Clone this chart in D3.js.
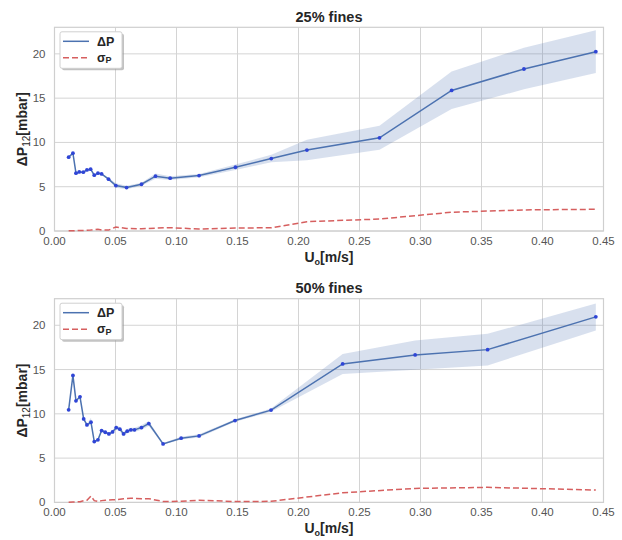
<!DOCTYPE html>
<html lang="en">
<head>
  <meta charset="UTF-8">
  <title>Pressure drop vs superficial velocity</title>
  <style>
    body { margin: 0; background: #fff; }
    svg { display: block; font-family: "Liberation Sans", Arial, sans-serif; }
    .grid line { stroke: #d4d4d4; stroke-width: 1; }
    .tick-label { fill: #555; font-size: 11.5px; }
    .title { fill: #262626; font-size: 14.5px; font-weight: bold; }
    .axis-label { fill: #262626; font-size: 14px; font-weight: bold; }
    .legend-text { fill: #262626; font-size: 12.5px; font-weight: bold; }
  </style>
</head>
<body>
  <div id="chart"></div>
  <script src="https://d3js.org/d3.v7.min.js"></script>
  <script>
    // tick labels
    const xTicks = [0, 0.05, 0.1, 0.15, 0.2, 0.25, 0.3, 0.35, 0.4, 0.45];
    const yTicks = [0, 5, 10, 15, 20];

    // 25% fines
    const x25 = [0.0116, 0.0151, 0.0176, 0.0203, 0.0236, 0.0266, 0.0296, 0.0326, 0.0356, 0.0386, 0.0443, 0.0503,
                 0.0591, 0.0713, 0.0828, 0.0948, 0.1185, 0.1483, 0.1777, 0.2069, 0.2664, 0.3255, 0.3848, 0.4437];
    const dp25 = [8.34, 8.79, 6.53, 6.67, 6.64, 6.90, 6.98, 6.30, 6.53, 6.45, 5.85, 5.13,
                  4.90, 5.28, 6.19, 5.96, 6.26, 7.20, 8.18, 9.14, 10.52, 15.87, 18.29, 20.25];
    const lo25 = [8.28, 8.72, 6.46, 6.60, 6.56, 6.82, 6.90, 6.22, 6.44, 6.36, 5.72, 4.88,
                  4.70, 5.10, 5.90, 5.75, 6.08, 6.90, 7.75, 8.00, 9.16, 13.77, 16.00, 17.84];
    const hi25 = [8.40, 8.86, 6.60, 6.74, 6.72, 6.98, 7.06, 6.38, 6.62, 6.54, 5.98, 5.38,
                  5.10, 5.46, 6.48, 6.17, 6.44, 7.50, 8.61, 10.30, 11.88, 18.00, 20.70, 22.66];
    const sd25 = [0.02, 0.03, 0.05, 0.06, 0.05, 0.08, 0.10, 0.15, 0.20, 0.12, 0.10, 0.45,
                  0.28, 0.25, 0.32, 0.38, 0.22, 0.33, 0.37, 1.05, 1.35, 2.12, 2.38, 2.45];

    // 50% fines
    const x50 = [0.0116, 0.0151, 0.0176, 0.0209, 0.0239, 0.0266, 0.0299, 0.0326, 0.0356, 0.0386, 0.0416, 0.0446,
                 0.0476, 0.0506, 0.0536, 0.0566, 0.0596, 0.0626, 0.0656, 0.0713, 0.0773, 0.0890, 0.1038, 0.1185,
                 0.1480, 0.1775, 0.2362, 0.2956, 0.3550, 0.4437];
    const dp50 = [10.45, 14.34, 11.47, 11.92, 9.43, 8.75, 9.06, 6.87, 7.06, 8.11, 7.92, 7.73,
                  7.96, 8.45, 8.27, 7.73, 8.04, 8.19, 8.19, 8.45, 8.90, 6.60, 7.25, 7.51,
                  9.24, 10.42, 15.63, 16.65, 17.25, 20.95];
    const lo50 = [10.38, 14.26, 11.40, 11.84, 9.32, 8.62, 8.80, 6.78, 6.96, 7.98, 7.78, 7.58,
                  7.78, 8.22, 8.02, 7.48, 7.78, 7.95, 7.95, 8.20, 8.62, 6.50, 7.10, 7.32,
                  9.10, 10.24, 14.50, 14.98, 15.47, 19.40];
    const hi50 = [10.52, 14.42, 11.54, 12.00, 9.54, 8.88, 9.55, 6.96, 7.16, 8.24, 8.06, 7.88,
                  8.14, 8.68, 8.52, 7.98, 8.30, 8.43, 8.43, 8.70, 9.18, 6.70, 7.40, 7.70,
                  9.38, 10.60, 16.76, 18.27, 19.03, 22.46];
    const sd50 = [0.02, 0.04, 0.05, 0.08, 0.20, 0.25, 0.72, 0.20, 0.10, 0.20, 0.25, 0.28,
                  0.30, 0.30, 0.35, 0.40, 0.45, 0.48, 0.45, 0.40, 0.42, 0.10, 0.12, 0.25,
                  0.10, 0.12, 1.09, 1.58, 1.70, 1.40];

    const panels = [
      { title: '25% fines', top: 27.3, x: x25, dp: dp25, lo: lo25, hi: hi25, sd: sd25 },
      { title: '50% fines', top: 298.7, x: x50, dp: dp50, lo: lo50, hi: hi50, sd: sd50 }
    ];

    const width = 622, height = 540;
    const left = 54.5, right = 603.5, plotH = 203.7;
    const lineBlue = '#4c72b0', dotBlue = '#2f45d6', red = '#d65f5f';

    const svg = d3.select('#chart').append('svg')
      .attr('width', width)
      .attr('height', height);

    const x = d3.scaleLinear().domain([0, 0.45]).range([left, right]);

    panels.forEach(p => {
      const y = d3.scaleLinear().domain([0, 23]).range([p.top + plotH, p.top]);
      const g = svg.append('g');
      const rows = p.x.map((v, i) => ({ x: v, dp: p.dp[i], lo: p.lo[i], hi: p.hi[i], sd: p.sd[i] }));

      // grid
      const grid = g.append('g').attr('class', 'grid');
      grid.selectAll('.gx').data(xTicks).enter().append('line')
        .attr('x1', d => x(d)).attr('x2', d => x(d))
        .attr('y1', p.top).attr('y2', p.top + plotH);
      grid.selectAll('.gy').data(yTicks).enter().append('line')
        .attr('x1', left).attr('x2', right)
        .attr('y1', d => y(d)).attr('y2', d => y(d));

      g.append('rect')
        .attr('x', left).attr('y', p.top)
        .attr('width', right - left).attr('height', plotH)
        .attr('fill', 'none').attr('stroke', '#cfcfcf').attr('stroke-width', 1.2);

      // tick labels
      g.selectAll('.xt').data(xTicks).enter().append('text')
        .attr('class', 'tick-label')
        .attr('x', d => x(d)).attr('y', p.top + plotH + 14)
        .attr('text-anchor', 'middle')
        .text(d => d.toFixed(2));
      g.selectAll('.yt').data(yTicks).enter().append('text')
        .attr('class', 'tick-label')
        .attr('x', left - 9).attr('y', d => y(d) + 4)
        .attr('text-anchor', 'end')
        .text(d => d);

      // confidence band
      const area = d3.area().x(d => x(d.x)).y0(d => y(d.lo)).y1(d => y(d.hi));
      g.append('path').datum(rows)
        .attr('d', area)
        .attr('fill', lineBlue).attr('fill-opacity', 0.22);

      // sigma
      const sdLine = d3.line().x(d => x(d.x)).y(d => y(d.sd));
      g.append('path').datum(rows)
        .attr('d', sdLine)
        .attr('fill', 'none').attr('stroke', red)
        .attr('stroke-width', 1.5).attr('stroke-dasharray', '6,3');

      // delta P
      const dpLine = d3.line().x(d => x(d.x)).y(d => y(d.dp));
      g.append('path').datum(rows)
        .attr('d', dpLine)
        .attr('fill', 'none').attr('stroke', lineBlue).attr('stroke-width', 1.5);
      g.selectAll('.dot').data(rows).enter().append('circle')
        .attr('cx', d => x(d.x)).attr('cy', d => y(d.dp))
        .attr('r', 1.9).attr('fill', dotBlue);

      // title
      g.append('text')
        .attr('class', 'title')
        .attr('x', (left + right) / 2).attr('y', p.top - 5.5)
        .attr('text-anchor', 'middle')
        .text(p.title);

      // x label
      const xl = g.append('text')
        .attr('class', 'axis-label')
        .attr('x', (left + right) / 2).attr('y', p.top + plotH + 31)
        .attr('text-anchor', 'middle');
      xl.append('tspan').text('U');
      xl.append('tspan').attr('font-size', '9px').attr('dy', 3).text('o');
      xl.append('tspan').attr('dy', -3).text('[m/s]');

      // y label
      const yl = g.append('text')
        .attr('class', 'axis-label')
        .attr('transform', `translate(27, ${p.top + plotH / 2}) rotate(-90)`)
        .attr('text-anchor', 'middle');
      yl.append('tspan').text('ΔP');
      yl.append('tspan').attr('font-size', '10px').attr('font-weight', 'normal').attr('dy', 3).text('12');
      yl.append('tspan').attr('dy', -3).text('[mbar]');

      // legend
      const lg = g.append('g').attr('transform', `translate(60, ${p.top + 4.5})`);
      lg.append('rect')
        .attr('x', 2).attr('y', 2).attr('width', 62).attr('height', 36.5)
        .attr('rx', 2).attr('fill', '#9a9a9a').attr('opacity', 0.6);
      lg.append('rect')
        .attr('x', 0).attr('y', 0).attr('width', 62).attr('height', 36.5)
        .attr('rx', 2).attr('fill', '#fff').attr('stroke', '#d0d0d0');
      lg.append('line')
        .attr('x1', 3).attr('x2', 29).attr('y1', 9.5).attr('y2', 9.5)
        .attr('stroke', lineBlue).attr('stroke-width', 1.5);
      lg.append('line')
        .attr('x1', 3).attr('x2', 29).attr('y1', 26).attr('y2', 26)
        .attr('stroke', red).attr('stroke-width', 1.5).attr('stroke-dasharray', '6,3');
      lg.append('text').attr('class', 'legend-text')
        .attr('x', 37).attr('y', 14).text('ΔP');
      const s = lg.append('text').attr('class', 'legend-text')
        .attr('x', 37).attr('y', 30);
      s.append('tspan').text('σ');
      s.append('tspan').attr('font-size', '9px').attr('dy', 1.5).text('P');
    });
  </script>
</body>
</html>
